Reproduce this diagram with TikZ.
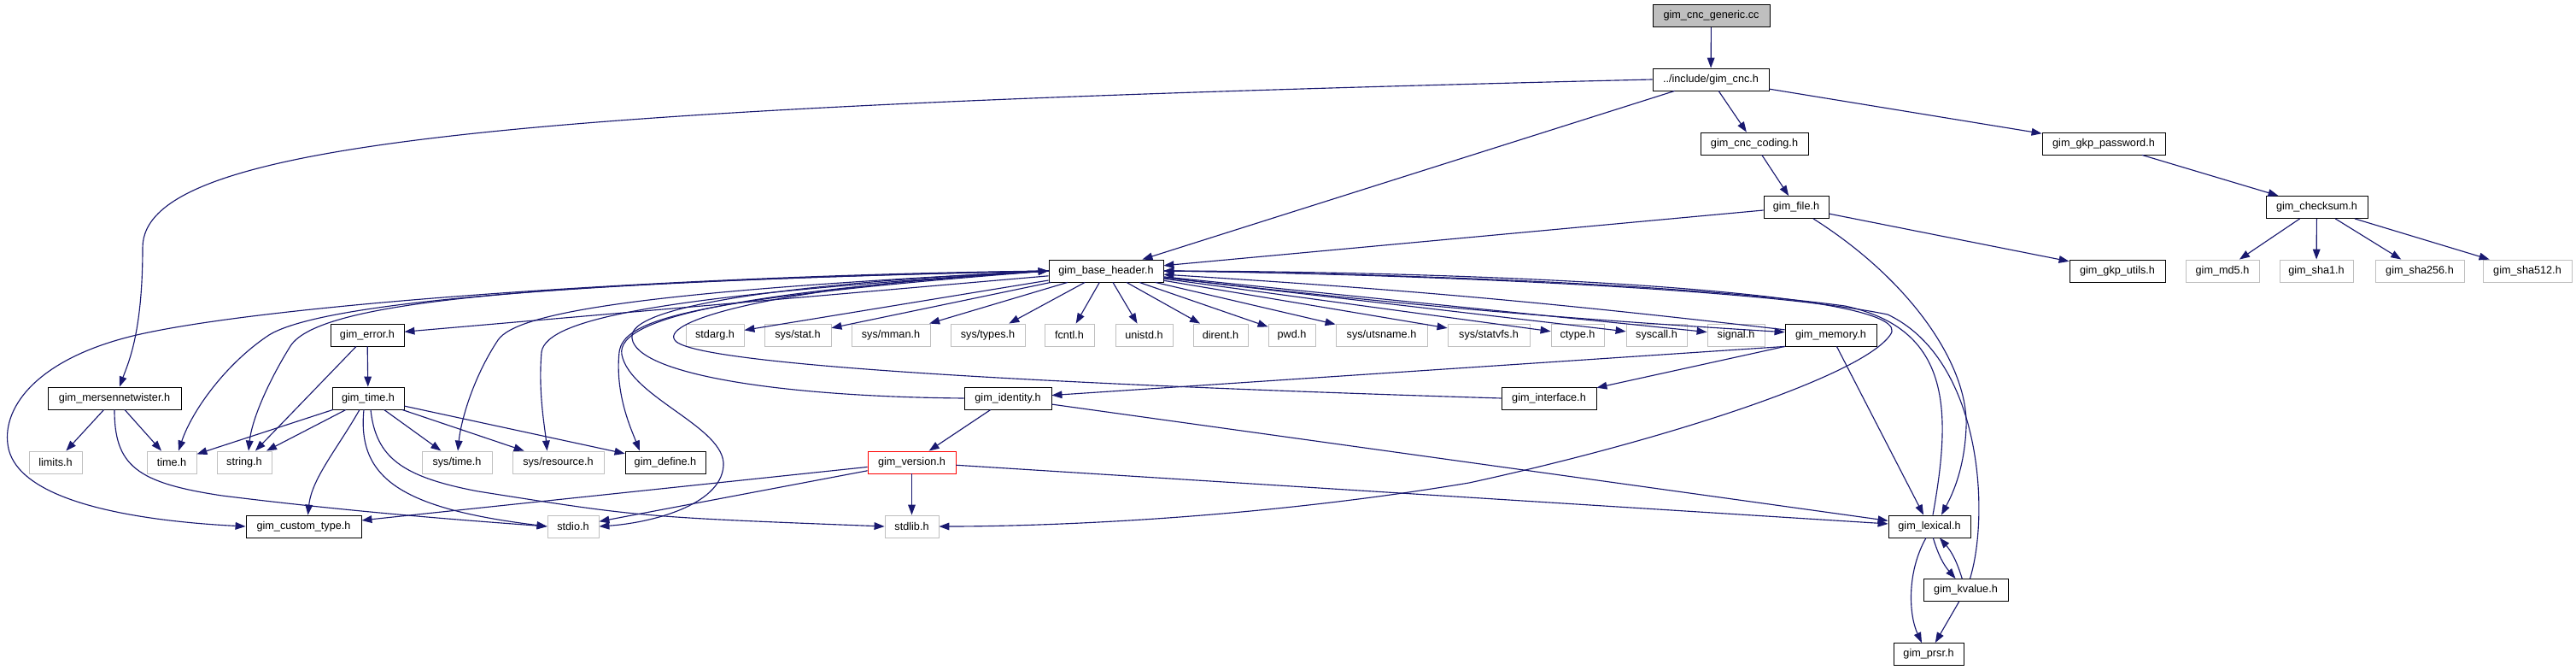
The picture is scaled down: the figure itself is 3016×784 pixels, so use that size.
\documentclass[tikz,border=0pt]{standalone}
\usepackage{fontspec}
\setmainfont{Liberation Sans}
\usetikzlibrary{arrows.meta,calc}
\definecolor{edgeblue}{HTML}{191970}
\definecolor{greyb}{HTML}{BFBFBF}
\begin{document}
\begin{tikzpicture}[x=0.75pt,y=-0.75pt,
  hdr/.style={draw=black, fill=white, line width=0.65pt, rectangle, inner sep=0pt,
    minimum height=19.5pt, font=\fontsize{9.5}{11}\selectfont, text=black},
  sys/.style={hdr, draw=greyb},
  bw/.style={minimum width=#1*0.75pt},
  dep/.style={draw=edgeblue, line width=0.85pt, -{Triangle[length=9pt,width=6.5pt]}},
]
\useasboundingbox (0,0) rectangle (3016,784);
\fill[white] (0,0) rectangle (3016,784);

% rank 0-4
\node[hdr, fill=greyb, bw=137] (generic) at (2003.5,18.5) {gim\_cnc\_generic.cc};
\node[hdr, bw=136] (cnc) at (2003,93) {../include/gim\_cnc.h};
\node[hdr, bw=126] (coding) at (2054,168) {gim\_cnc\_coding.h};
\node[hdr, bw=144] (password) at (2463,168) {gim\_gkp\_password.h};
\node[hdr, bw=76] (file) at (2103,242.5) {gim\_file.h};
\node[hdr, bw=119] (checksum) at (2712.5,242.5) {gim\_checksum.h};
\node[hdr, bw=134] (base) at (1295,317) {gim\_base\_header.h};
\node[hdr, bw=112] (gkputils) at (2479,317) {gim\_gkp\_utils.h};
\node[sys, bw=86] (md5) at (2602,317) {gim\_md5.h};
\node[sys, bw=86] (sha1) at (2712,317) {gim\_sha1.h};
\node[sys, bw=104] (sha256) at (2833,317) {gim\_sha256.h};
\node[sys, bw=104] (sha512) at (2959,317) {gim\_sha512.h};
% rank 5
\node[hdr, bw=86] (error) at (430,392) {gim\_error.h};
\node[sys, bw=68] (stdarg) at (837,392) {stdarg.h};
\node[sys, bw=78] (sysstat) at (934,392) {sys/stat.h};
\node[sys, bw=92] (mman) at (1043,392) {sys/mman.h};
\node[sys, bw=87] (systypes) at (1156.5,392) {sys/types.h};
\node[sys, bw=58] (fcntl) at (1252,392) {fcntl.h};
\node[sys, bw=67] (unistd) at (1339.5,392) {unistd.h};
\node[sys, bw=64] (dirent) at (1429,392) {dirent.h};
\node[sys, bw=55] (pwd) at (1512.5,392) {pwd.h};
\node[sys, bw=107] (utsname) at (1617.5,392) {sys/utsname.h};
\node[sys, bw=96] (statvfs) at (1743,392) {sys/statvfs.h};
\node[sys, bw=62] (ctype) at (1847,392) {ctype.h};
\node[sys, bw=71] (syscall) at (1939.5,392) {syscall.h};
\node[sys, bw=67] (signal) at (2032.5,392) {signal.h};
\node[hdr, bw=107] (memory) at (2143.5,392) {gim\_memory.h};
% rank 6
\node[hdr, bw=156] (mersenne) at (134,466) {gim\_mersennetwister.h};
\node[hdr, bw=84] (gtime) at (431,466) {gim\_time.h};
\node[hdr, bw=102] (identity) at (1180,466) {gim\_identity.h};
\node[hdr, bw=111] (interface) at (1813.5,466) {gim\_interface.h};
% rank 7
\node[sys, bw=62] (limits) at (65,541) {limits.h};
\node[sys, bw=58] (timeh) at (201,541) {time.h};
\node[sys, bw=64] (stringh) at (286,541) {string.h};
\node[sys, bw=82] (systime) at (535,541) {sys/time.h};
\node[sys, bw=107] (sysres) at (653.5,541) {sys/resource.h};
\node[hdr, bw=94] (define) at (779,541) {gim\_define.h};
\node[hdr, draw=red, bw=103] (version) at (1067.5,541) {gim\_version.h};
% rank 8-10
\node[hdr, bw=135] (custom) at (355.5,616) {gim\_custom\_type.h};
\node[sys, bw=60] (stdio) at (671,616) {stdio.h};
\node[sys, bw=63] (stdlib) at (1067.5,616) {stdlib.h};
\node[hdr, bw=96] (lexical) at (2259,616) {gim\_lexical.h};
\node[hdr, bw=99] (kvalue) at (2301.5,690.5) {gim\_kvalue.h};
\node[hdr, bw=82] (prsr) at (2258,765.5) {gim\_prsr.h};

% upper part
\draw[dep] (generic) -- (cnc);
\draw[dep] (cnc) -- (coding);
\draw[dep] (cnc) -- (password);
\draw[dep] (cnc) -- (base);
\draw[dep] (cnc.west) .. controls (600,125) and (167,165) .. (167,290) .. controls (167,390) and (150,425) .. ($(mersenne.north)+(6,0)$);
\draw[dep] (coding) -- (file);
\draw[dep] (file) -- (base);
\draw[dep] (file) -- (gkputils);
\draw[dep] ($(file.south)+(20,0)$) .. controls (2240,330) and (2305,430) .. (2302,500) .. controls (2300,550) and (2285,580) .. ($(lexical.north)+(14,0)$);
\draw[dep] (password) -- (checksum);
\foreach \t in {md5,sha1,sha256,sha512} \draw[dep] (checksum) -- (\t);

% base header fan
\foreach \t in {stdarg,sysstat,mman,systypes,fcntl,unistd,dirent,pwd,utsname,statvfs,ctype,syscall,signal}
  \draw[dep] (base) -- (\t);
\draw[dep] (base) to[bend right=1.5] (memory);
\draw[dep] (memory) to[bend right=1.5] (base);
\draw[dep] (base) -- (error);
\draw[dep] (base.west) .. controls (700,328) and (380,352) .. (315,392) .. controls (265,425) and (225,480) .. ($(timeh.north)+(8,0)$);
\draw[dep] (base.west) .. controls (650,330) and (375,350) .. (340,405) .. controls (315,445) and (295,490) .. ($(stringh.north)+(5,0)$);
\draw[dep] (base.west) .. controls (760,340) and (605,365) .. (583,398) .. controls (555,440) and (540,490) .. ($(systime.north)+(1,0)$);
\draw[dep] (base.west) .. controls (780,345) and (640,372) .. (634,412) .. controls (630,460) and (638,500) .. ($(sysres.north)+(-13,0)$);
\draw[dep] (base.west) .. controls (800,350) and (730,375) .. (725,412) .. controls (720,460) and (738,500) .. ($(define.north)+(-30,0)$);
\draw[dep] (base.west) .. controls (800,322) and (320,355) .. (160,392) .. controls (40,420) and (0,480) .. (10,525) .. controls (25,590) and (170,610) .. (custom.west);
\draw[dep] (base.west) .. controls (880,340) and (720,370) .. (728,415) .. controls (738,465) and (850,500) .. (847,545) .. controls (844,592) and (760,612) .. (stdio.east);
\draw[dep] (base.east) .. controls (1800,318) and (2250,345) .. (2213,392) .. controls (2180,440) and (1950,515) .. (1720,565) .. controls (1450,610) and (1200,616) .. (stdlib.east);

% back edges into base header
\draw[dep] ($(lexical.north)+(4,0)$) .. controls (2285,480) and (2285,385) .. (2160,358) .. controls (1950,330) and (1600,320) .. (base.east);
\draw[dep] ($(kvalue.north)+(5,0)$) .. controls (2330,600) and (2320,420) .. (2210,368) .. controls (2050,335) and (1600,320) .. (base.east);
\draw[dep] (interface.west) .. controls (1300,452) and (830,430) .. (792,400) .. controls (765,378) and (900,335) .. (base.west);
\draw[dep] (identity.west) .. controls (900,464) and (735,435) .. (740,392) .. controls (745,355) and (950,330) .. (base.west);

% memory
\draw[dep] (memory.south west) -- (identity);
\draw[dep] (memory.south west) -- (interface);
\draw[dep] (memory) -- (lexical);

% error / time
\draw[dep] (error) -- (gtime);
\draw[dep] (error) -- (stringh);
\draw[dep] (gtime) -- (timeh);
\draw[dep] (gtime) -- (stringh);
\draw[dep] ($(gtime.south)+(-10,0)$) .. controls (395,525) and (365,560) .. ($(custom.north)+(5,0)$);
\draw[dep] ($(gtime.south)+(-5,0)$) .. controls (418,560) and (470,595) .. (stdio.west);
\draw[dep] ($(gtime.south)+(3,0)$) .. controls (440,535) and (470,558) .. (560,575) .. controls (750,605) .. (stdlib.west);
\draw[dep] (gtime) -- (systime);
\draw[dep] (gtime) -- (sysres);
\draw[dep] (gtime) -- (define);

% mersenne
\draw[dep] (mersenne) -- (limits);
\draw[dep] (mersenne) -- (timeh);
\draw[dep] (mersenne.south) .. controls (134,545) and (160,565) .. (260,580) .. controls (420,600) and (560,610) .. (stdio.west);

% identity / version
\draw[dep] (identity) -- (version);
\draw[dep] (identity) -- (lexical);
\draw[dep] (version) -- (custom);
\draw[dep] (version) -- (stdio);
\draw[dep] (version) -- (stdlib);
\draw[dep] (version) -- (lexical);

% lexical / kvalue / prsr
\draw[dep] (lexical) to[bend right=12] (kvalue);
\draw[dep] (kvalue) to[bend right=12] (lexical);
\draw[dep] ($(lexical.south)+(-4,0)$) .. controls (2232,670) and (2235,720) .. ($(prsr.north)+(-8,0)$);
\draw[dep] (kvalue) -- (prsr);
\end{tikzpicture}
\end{document}
